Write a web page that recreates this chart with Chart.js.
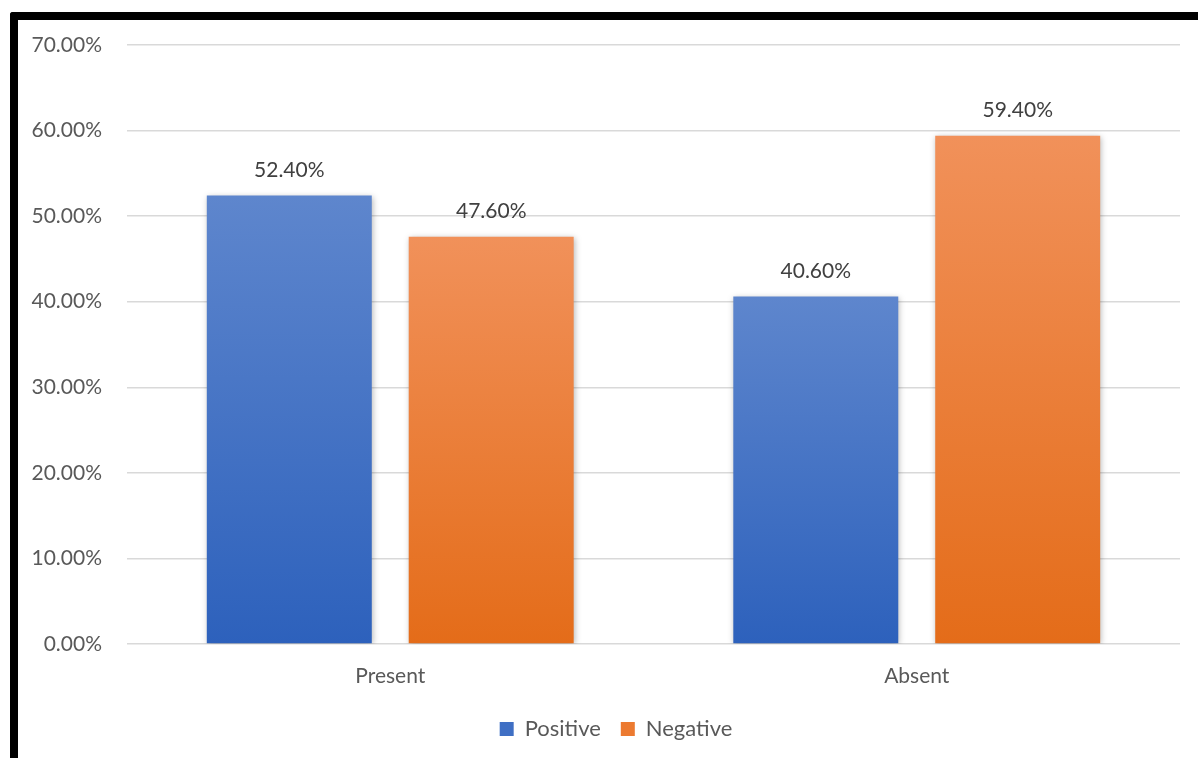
<!DOCTYPE html>
<html>
<head>
<meta charset="utf-8">
<script src="https://cdn.jsdelivr.net/npm/chart.js@4/dist/chart.umd.min.js"></script>
<style>
  html, body { margin: 0; padding: 0; background: #ffffff; }
  #wrap { position: relative; width: 1198px; height: 758px; overflow: hidden; }
  #frame {
    position: absolute; left: 10px; top: 12px; right: -20px; bottom: -20px;
    border-left: 8px solid #000; border-top: 8px solid #000;
    border-top-left-radius: 3px; pointer-events: none; z-index: 2;
  }
  canvas { position: absolute; left: 0; top: 0; }
</style>
</head>
<body>
<div id="wrap">
  <canvas id="chart" width="1198" height="758"></canvas>
  <div id="frame"></div>
</div>
<script>
// Categories, series and axis ticks
const categories = ["Present", "Absent"];
const positiveValues = [52.4, 40.6];
const negativeValues = [47.6, 59.4];
const seriesNames = ["Positive", "Negative"];
const yTicks = [0, 10, 20, 30, 40, 50, 60, 70];

const FONT = "Lato, 'Open Sans', 'Liberation Sans', sans-serif";
const FONT_SIZE = 21;

// Vertical gradient for each bar, from its top down to the baseline
function barGradient(topColor, bottomColor) {
  return function (ctx) {
    const chart = ctx.chart;
    const area = chart.chartArea;
    if (!area || ctx.type !== 'data') return bottomColor;
    const y = chart.scales.y;
    const top = y.getPixelForValue(ctx.raw);
    const bottom = y.getPixelForValue(0);
    const g = chart.ctx.createLinearGradient(0, top, 0, bottom);
    g.addColorStop(0, topColor);
    g.addColorStop(1, bottomColor);
    return g;
  };
}

// Soft shadow behind bars
const barShadow = {
  id: 'barShadow',
  beforeDatasetsDraw(chart) {
    const c = chart.ctx;
    c.save();
    c.shadowColor = 'rgba(0,0,0,0.28)';
    c.shadowBlur = 6;
    c.shadowOffsetX = 1;
    c.shadowOffsetY = 1;
  },
  afterDatasetsDraw(chart) {
    chart.ctx.restore();
  }
};

// Value labels above each bar
const valueLabels = {
  id: 'valueLabels',
  afterDatasetsDraw(chart) {
    const c = chart.ctx;
    c.save();
    c.font = FONT_SIZE + "px " + FONT;
    c.fillStyle = '#404040';
    c.textAlign = 'center';
    c.textBaseline = 'middle';
    chart.data.datasets.forEach((ds, i) => {
      chart.getDatasetMeta(i).data.forEach((bar, j) => {
        c.fillText(ds.data[j].toFixed(2) + '%', bar.x, bar.y - 25);
      });
    });
    c.restore();
  }
};

// Nudge the legend a little to the right of the plot centre
const legendShift = {
  id: 'legendShift',
  afterLayout(chart) {
    const lg = chart.legend;
    if (lg) { lg.left += 26; lg.right += 26; }
  }
};

new Chart(document.getElementById('chart'), {
  type: 'bar',
  data: {
    labels: categories,
    datasets: [
      {
        label: seriesNames[0],
        data: positiveValues,
        backgroundColor: barGradient('#5E86CD', '#2D61BC'),
        categoryPercentage: 0.767,
        barPercentage: 0.817
      },
      {
        label: seriesNames[1],
        data: negativeValues,
        backgroundColor: barGradient('#F1915A', '#E46C19'),
        categoryPercentage: 0.767,
        barPercentage: 0.817
      }
    ]
  },
  options: {
    responsive: false,
    animation: false,
    devicePixelRatio: 1,
    layout: { padding: { left: 0, right: 18, top: 45, bottom: 8 } },
    scales: {
      x: {
        grid: { display: false, drawTicks: false },
        border: { display: false },
        ticks: { color: '#595959', font: { family: FONT, size: FONT_SIZE }, padding: 20 },
        afterFit(scale) { scale.height = 54; }
      },
      y: {
        min: 0, max: 70,
        afterBuildTicks(scale) { scale.ticks = yTicks.map(v => ({ value: v })); },
        grid: { color: '#D9D9D9', lineWidth: 1.5, drawTicks: false },
        border: { display: false },
        ticks: {
          color: '#595959',
          font: { family: FONT, size: FONT_SIZE },
          padding: 25,
          callback: v => v.toFixed(2) + '%'
        },
        afterFit(scale) { scale.width = 127; }
      }
    },
    plugins: {
      legend: {
        position: 'bottom',
        labels: {
          color: '#595959',
          font: { family: FONT, size: 22 },
          boxWidth: 14, boxHeight: 14,
          padding: 20,
          generateLabels(chart) {
            const cols = ['#3F6FC4', '#EC7A30'];
            return chart.data.datasets.map((ds, i) => ({
              text: ds.label, fillStyle: cols[i], strokeStyle: cols[i],
              lineWidth: 0, datasetIndex: i, fontColor: '#595959'
            }));
          }
        }
      },
      tooltip: { enabled: false }
    }
  },
  plugins: [barShadow, valueLabels, legendShift]
});
</script>
</body>
</html>
